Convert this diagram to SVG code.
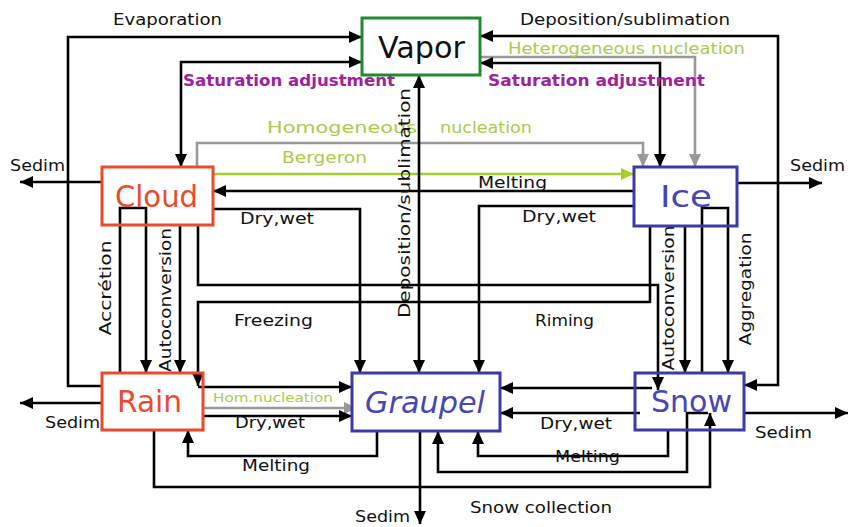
<svg xmlns="http://www.w3.org/2000/svg" width="850" height="527" viewBox="0 0 850 527">
<style>
.c{fill:none;stroke:#000;stroke-width:2.6}
.g{fill:none;stroke:#999;stroke-width:2.6}
.gr{fill:none;stroke:#a6cf2c;stroke-width:2.6}
.ba{marker-end:url(#ab)}
.bb{marker-start:url(#ab);marker-end:url(#ab)}
.ga{marker-end:url(#ag)}
.la{font-family:"DejaVu Sans",sans-serif;font-size:16px;fill:#111}
.lg{font-family:"DejaVu Sans",sans-serif;font-size:16px;fill:#a8cc48}
.lp{font-family:"DejaVu Sans",sans-serif;font-size:15px;font-weight:bold;fill:#a020a0}
.nb{fill:#fff;stroke-width:3}
.nt{font-family:"DejaVu Sans",sans-serif;font-size:31px}
</style>
<defs>
<marker id="ab" markerUnits="userSpaceOnUse" markerWidth="14" markerHeight="14" refX="13" refY="7" orient="auto-start-reverse"><path d="M0,1 L13,7 L0,13 z" fill="#000"/></marker>
<marker id="ag" markerUnits="userSpaceOnUse" markerWidth="14" markerHeight="14" refX="13" refY="7" orient="auto-start-reverse"><path d="M0,1 L13,7 L0,13 z" fill="#999"/></marker>
<marker id="agr" markerUnits="userSpaceOnUse" markerWidth="14" markerHeight="14" refX="13" refY="7" orient="auto-start-reverse"><path d="M0,1 L13,7 L0,13 z" fill="#a6cf2c"/></marker>
</defs>
<rect width="850" height="527" fill="#fff"/>
<g id="connectors">
<path class="c ba" d="M102,386 H68 V37 H362"/>
<path class="c bb" d="M362,62 H181 V167"/>
<path class="c bb" d="M480,36 H778 V385 H744"/>
<path class="g ga" d="M480,57 H695 V167"/>
<path class="c bb" d="M480,63 H660 V167"/>
<path class="g ga" d="M197,167 V143 H643 V167"/>
<path class="gr" style="marker-end:url(#agr)" d="M213,174 H634"/>
<path class="c ba" d="M634,191 H213"/>
<path class="c ba" d="M213,209 H360 V373"/>
<path class="c ba" d="M634,206 H479 V373"/>
<path class="c bb" d="M419,75 V373"/>
<path class="c ba" d="M198,225 V285 H658 V390"/>
<path class="c ba" d="M650,226 V302 H198 V386"/>
<path class="c ba" d="M198,387 H352"/>
<path class="c ba" d="M120,373 V208 H146 V373"/>
<path class="c ba" d="M180,225 V373"/>
<path class="c ba" d="M102,182 H20"/>
<path class="c ba" d="M102,403 H20"/>
<path class="g ga" d="M203,408 H357"/>
<path class="c ba" d="M203,416 H352"/>
<path class="c ba" d="M377,431 V456 H188 V430"/>
<path class="c ba" d="M154,430 V487 H710 V413"/>
<path class="c ba" d="M708,413 H687 V472 H438 V431"/>
<path class="c ba" d="M420,431 V524"/>
<path class="c ba" d="M668,430 V456 H478 V431"/>
<path class="c ba" d="M640,413 H500"/>
<path class="c ba" d="M652,388 H500"/>
<path class="c ba" d="M744,413 H848"/>
<path class="c ba" d="M737,183 H822"/>
<path class="c ba" d="M685,226 V373"/>
<path class="c ba" d="M702,373 V208 H728 V373"/>
</g>
<g id="labels">
<text class="la" x="113" y="25" textLength="109" lengthAdjust="spacingAndGlyphs">Evaporation</text>
<text class="la" x="520" y="25" textLength="210" lengthAdjust="spacingAndGlyphs">Deposition/sublimation</text>
<text class="lg" x="508" y="54" textLength="237" lengthAdjust="spacingAndGlyphs">Heterogeneous nucleation</text>
<text class="lp" x="183" y="86" textLength="212" lengthAdjust="spacingAndGlyphs">Saturation adjustment</text>
<text class="lp" x="488" y="86" textLength="217" lengthAdjust="spacingAndGlyphs">Saturation adjustment</text>
<text class="lg" x="267" y="133" textLength="150" lengthAdjust="spacingAndGlyphs">Homogeneous</text>
<text class="lg" x="440" y="133" textLength="92" lengthAdjust="spacingAndGlyphs">nucleation</text>
<text class="lg" x="282" y="163" textLength="85" lengthAdjust="spacingAndGlyphs">Bergeron</text>
<text class="la" x="478" y="188" textLength="69" lengthAdjust="spacingAndGlyphs">Melting</text>
<text class="la" x="240" y="224" textLength="74" lengthAdjust="spacingAndGlyphs">Dry,wet</text>
<text class="la" x="522" y="222" textLength="74" lengthAdjust="spacingAndGlyphs">Dry,wet</text>
<text class="la" x="234" y="326" textLength="79" lengthAdjust="spacingAndGlyphs">Freezing</text>
<text class="la" x="535" y="326" textLength="59" lengthAdjust="spacingAndGlyphs">Riming</text>
<text class="lg" x="213" y="402" font-size="13" style="font-size:13px" textLength="120" lengthAdjust="spacingAndGlyphs">Hom.nucleation</text>
<text class="la" x="235" y="428" textLength="70" lengthAdjust="spacingAndGlyphs">Dry,wet</text>
<text class="la" x="242" y="471" textLength="68" lengthAdjust="spacingAndGlyphs">Melting</text>
<text class="la" x="355" y="522" textLength="55" lengthAdjust="spacingAndGlyphs">Sedim</text>
<text class="la" x="470" y="513" textLength="142" lengthAdjust="spacingAndGlyphs">Snow collection</text>
<text class="la" x="540" y="429" textLength="72" lengthAdjust="spacingAndGlyphs">Dry,wet</text>
<text class="la" x="555" y="462" textLength="65" lengthAdjust="spacingAndGlyphs">Melting</text>
<text class="la" x="755" y="438" textLength="57" lengthAdjust="spacingAndGlyphs">Sedim</text>
<text class="la" x="45" y="428" textLength="55" lengthAdjust="spacingAndGlyphs">Sedim</text>
<text class="la" x="10" y="171" textLength="55" lengthAdjust="spacingAndGlyphs">Sedim</text>
<text class="la" x="790" y="171" textLength="55" lengthAdjust="spacingAndGlyphs">Sedim</text>
<text class="la" text-anchor="middle" transform="translate(111,288) rotate(-90)" textLength="95" lengthAdjust="spacingAndGlyphs">Accrétion</text>
<text class="la" text-anchor="middle" transform="translate(171,300) rotate(-90)" textLength="144" lengthAdjust="spacingAndGlyphs">Autoconversion</text>
<text class="la" text-anchor="middle" transform="translate(410,203) rotate(-90)" textLength="230" lengthAdjust="spacingAndGlyphs">Deposition/sublimation</text>
<text class="la" text-anchor="middle" transform="translate(674,298) rotate(-90)" textLength="145" lengthAdjust="spacingAndGlyphs">Autoconversion</text>
<text class="la" text-anchor="middle" transform="translate(751,289) rotate(-90)" textLength="113" lengthAdjust="spacingAndGlyphs">Aggregation</text>
</g>
<g id="vapor"><rect class="nb" x="362" y="18" width="118" height="57" stroke="#1f8a2f"/><text class="nt" x="378" y="58" fill="#111" textLength="87" lengthAdjust="spacingAndGlyphs">Vapor</text></g>
<g id="cloud"><rect class="nb" x="102" y="167" width="111" height="58" stroke="#ea4b2c" fill-opacity="0"/><text class="nt" x="115" y="207" fill="#ea4b2c" textLength="83" lengthAdjust="spacingAndGlyphs">Cloud</text></g>
<g id="ice"><rect class="nb" x="634" y="167" width="103" height="59" stroke="#3b3ba6" fill-opacity="0"/><text class="nt" x="660" y="207" fill="#4646b4" textLength="52" lengthAdjust="spacingAndGlyphs">Ice</text></g>
<g id="rain"><rect class="nb" x="102" y="373" width="101" height="57" stroke="#ea4b2c" fill-opacity="0"/><text class="nt" x="117" y="412" fill="#ea4b2c" textLength="65" lengthAdjust="spacingAndGlyphs">Rain</text></g>
<g id="graupel"><rect class="nb" x="352" y="373" width="148" height="58" stroke="#3b3ba6"/><text class="nt" x="365" y="413" fill="#4646b4" font-style="italic" textLength="120" lengthAdjust="spacingAndGlyphs">Graupel</text></g>
<g id="snow"><rect class="nb" x="635" y="373" width="109" height="57" stroke="#3b3ba6" fill-opacity="0"/><text class="nt" x="651" y="412" fill="#4646b4" textLength="81" lengthAdjust="spacingAndGlyphs">Snow</text></g>
</svg>
